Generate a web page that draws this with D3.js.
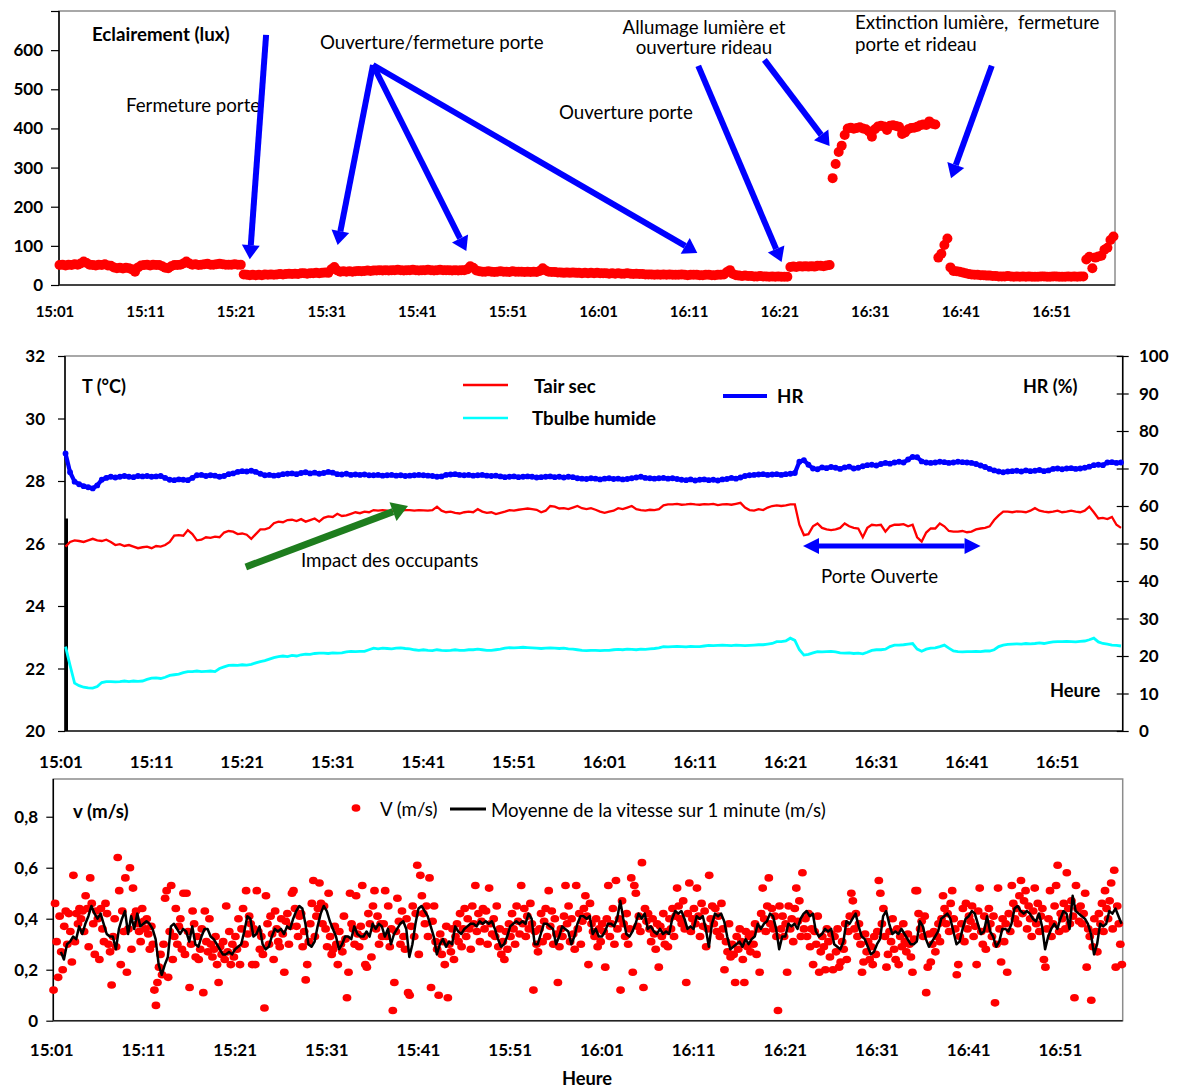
<!DOCTYPE html>
<html><head><meta charset="utf-8">
<script src="https://cdn.jsdelivr.net/npm/d3@7"></script>
<style>body{margin:0;background:#fff}svg{display:block}</style>
</head><body>
<svg id="c" width="1177" height="1088"></svg>
<script>
// ---------- shared categories ----------
const tickLabels = ["15:01","15:11","15:21","15:31","15:41","15:51","16:01","16:11","16:21","16:31","16:41","16:51"];
const tickMinutes = [0,10,20,30,40,50,60,70,80,90,100,110]; // minutes after 15:01

// ---------- top chart: illuminance (lux), one value every 20 s from 15:01:30 ----------
const luxStart = 0.5, luxStep = 1/3;
const luxValues = [
51,52,50, 52,51,53, 52,55,60, 56,52,51, 50,52,51, 53,50,49, 45,43,44, 42,44,43, 40,34,45, 50,51,52,
50,52,51, 51,48,44, 43,48,51, 51,52,55, 60,55,52, 53,51,52, 53,54,52, 52,53,54, 53,52,52, 52,53,52,
52,27,26, 25,26,25, 26,25,27, 26,27,26, 27,28,27, 28,29,28, 29,28,30, 30,29,30, 30,31,30, 31,32,31,
40,46,37, 34,35,34, 35,34,35, 36,35,36, 37,36,37, 37,38,37, 38,37,38, 38,39,38, 37,38,38, 39,38,37,
38,38,39, 38,37,38, 39,38,38, 38,37,38, 37,38,38, 40,48,44, 37,35,34, 34,35,34, 33,34,35, 34,34,33,
35,34,34, 34,33,34, 33,34,33, 36,43,37, 34,33,33, 32,32,31, 32,31,32, 31,31,30, 31,30,31, 30,31,30,
30,30,29, 30,29,30, 29,29,30, 29,28,29, 28,28,27, 27,27,26, 27,26,27, 26,27,26, 26,26,27, 26,25,26,
26,26,25, 25,26,26, 25,25,26, 26,27,33, 38,28,25, 24,23,24, 23,23,22, 22,23,22, 22,21,22, 21,22,21,
21,21,46, 47,46,48, 47,48,47, 48,47,49, 49,48,50, 51,273,309, 340,356,383, 400,402,399, 401,403,400, 398,392,379,
398,405,407, 405,396,407, 408,406,404, 386,390,398, 401,402,404, 408,410,409, 418,412,410, 70,80,102, 119,45,36, 35,34,32,
30,28,27, 26,26,25, 25,24,24, 23,23,22, 22,22,23, 22,21,22, 21,22,21, 22,21,21, 21,22,22, 21,21,22,
22,21,21, 21,22,21, 22,21,22, 22,65,72, 43,70,73, 75,90,95, 115,124
];
const luxTicks = [0,100,200,300,400,500,600];

// ---------- middle chart: one value every 30 s from 15:01:30 ----------
const tStart = 0.5, tStep = 0.5;
const tairSec = [
25.9,26.05, 26.1,26.08, 26.05,26.1, 26.15,26.1, 26.08,26.12, 26.05,25.95, 25.98,25.92, 25.95,25.9, 25.85,25.88, 25.9,25.85,
25.92,25.9, 25.95,26.05, 26.25,26.27, 26.25,26.43, 26.3,26.1, 26.12,26.2, 26.18,26.22, 26.2,26.35, 26.4,26.38, 26.3,26.32,
26.28,26.15, 26.3,26.45, 26.45,26.5, 26.65,26.7, 26.68,26.75, 26.76,26.72, 26.78,26.7, 26.75,26.8, 26.7,26.82, 26.87,26.85,
26.95,26.88, 26.9,26.95, 27.0,26.97, 27.02,27.0, 27.07,27.05, 27.07,27.05, 27.02,27.07, 27.05,27.07, 27.07,27.05, 27.07,27.06,
27.05,27.07, 27.18,27.05, 27.0,27.02, 26.98,26.96, 27.0,27.02, 27.0,27.1, 27.02,26.98, 27.0,26.94, 26.98,27.02, 27.07,27.05,
27.08,27.1, 27.12,27.1, 27.08,27.0, 27.05,27.2, 27.18,27.12, 27.13,27.1, 27.15,27.2, 27.13,27.1, 27.13,27.08, 27.02,26.98,
27.02,27.05, 27.13,27.1, 27.15,27.2, 27.1,27.07, 27.05,27.08, 27.07,27.1, 27.22,27.25, 27.25,27.27, 27.24,27.25, 27.27,27.25,
27.24,27.26, 27.25,27.27, 27.23,27.25, 27.26,27.24, 27.27,27.3, 27.15,27.07, 27.05,27.1, 27.07,27.15, 27.2,27.22, 27.2,27.22,
27.25,27.25, 26.6,26.27, 26.3,26.55, 26.64,26.5, 26.45,26.43, 26.45,26.5, 26.64,26.55, 26.5,26.48, 26.2,26.5, 26.6,26.58,
26.6,26.38, 26.55,26.6, 26.6,26.62, 26.55,26.6, 26.2,26.06, 26.35,26.48, 26.48,26.64, 26.55,26.4, 26.38,26.38, 26.4,26.36,
26.38,26.45, 26.48,26.5, 26.55,26.75, 26.9,27.02, 27.02,27.0, 27.03,27.02, 27.0,27.05, 27.13,27.05, 27.02,27.0, 27.02,27.05,
27.0,27.02, 27.05,27.02, 27.0,27.05, 27.18,27.0, 26.8,26.82, 26.78,26.85, 26.6,26.5
];
const tBulbeHumide = [
22.7,22.1, 21.53,21.45, 21.4,21.38, 21.37,21.42, 21.55,21.58, 21.58,21.57, 21.58,21.6, 21.58,21.6, 21.59,21.6, 21.65,21.69,
21.7,21.68, 21.72,21.78, 21.8,21.82, 21.87,21.9, 21.9,21.92, 21.9,21.91, 21.92,21.9, 22.0,22.05, 22.1,22.11, 22.1,22.12,
22.11,22.13, 22.18,22.22, 22.25,22.3, 22.35,22.38, 22.4,22.38, 22.42,22.4, 22.44,22.46, 22.45,22.48, 22.49,22.49, 22.48,22.5,
22.49,22.5, 22.53,22.55, 22.54,22.55, 22.55,22.6, 22.65,22.63, 22.65,22.64, 22.63,22.65, 22.66,22.64, 22.63,22.6, 22.58,22.6,
22.58,22.57, 22.6,22.58, 22.57,22.58, 22.6,22.58, 22.58,22.6, 22.6,22.62, 22.6,22.58, 22.58,22.6, 22.62,22.65, 22.67,22.66,
22.67,22.68, 22.67,22.66, 22.65,22.64, 22.65,22.66, 22.65,22.64, 22.65,22.63, 22.62,22.6, 22.58,22.57, 22.58,22.58, 22.57,22.58,
22.58,22.6, 22.61,22.6, 22.62,22.61, 22.6,22.62, 22.61,22.63, 22.64,22.66, 22.7,22.69, 22.7,22.71, 22.7,22.69, 22.71,22.7,
22.7,22.72, 22.74,22.73, 22.74,22.75, 22.74,22.73, 22.75,22.74, 22.73,22.74, 22.75,22.76, 22.76,22.78, 22.8,22.86, 22.86,22.88,
22.97,22.9, 22.6,22.43, 22.45,22.5, 22.54,22.53, 22.54,22.55, 22.53,22.5, 22.49,22.5, 22.48,22.49, 22.47,22.52, 22.58,22.6,
22.6,22.62, 22.7,22.75, 22.75,22.76, 22.78,22.8, 22.62,22.55, 22.62,22.65, 22.66,22.7, 22.75,22.65, 22.56,22.54, 22.53,22.54,
22.54,22.55, 22.54,22.56, 22.56,22.6, 22.7,22.75, 22.77,22.78, 22.79,22.78, 22.8,22.79, 22.8,22.82, 22.8,22.83, 22.85,22.86,
22.86,22.87, 22.86,22.85, 22.87,22.88, 22.92,22.97, 22.85,22.8, 22.78,22.75, 22.74,22.72
];
const humidite = [
74,69, 66.5,65.8, 65.3,65, 64.7,65.5, 67,67.5, 67.8,67.6, 67.8,68, 67.8,67.7, 68,67.9, 68,67.8,
67.9,68, 67.5,67, 66.9,67.1, 67,66.9, 67.5,68.2, 68.3,68, 68.2,68.1, 67.8,68, 68.5,68.7, 69.1,69.3,
69.2,69.4, 69.1,68.6, 68.2,68.3, 68.1,68.2, 68.5,68.6, 68.7,68.5, 68.8,69, 68.7,68.9, 68.6,68.8, 69.1,68.9,
68.5,68.4, 68.6,68.3, 68.4,68.3, 68.4,68.2, 68.2,68.3, 68.1,68.2, 68.3,68.1, 68.2,68.0, 68.1,68.2, 68.3,68.2,
68.1,68.0, 67.8,67.9, 68.3,68.4, 68.5,68.3, 68.2,68.3, 68.1,68.2, 68.3,68.1, 68.0,68.1, 67.9,67.7, 67.8,67.9,
67.7,67.8, 67.9,67.8, 67.6,67.7, 67.8,67.9, 67.7,67.8, 67.6,67.8, 67.7,67.4, 67.3,67.2, 67.4,67.3, 67.1,67.3,
67.4,67.2, 67.3,67.1, 67.2,67.4, 67.6,67.8, 67.5,67.4, 67.3,67.4, 67.5,67.3, 67.4,67.2, 67.0,66.9, 67.1,66.8,
67.0,67.1, 66.9,67.0, 66.8,67.1, 67.2,67.5, 67.3,67.6, 68.0,68.2, 68.3,68.4, 68.5,68.3, 68.4,68.5, 68.3,68.5,
68.6,68.8, 71.8,72.2, 71,70, 69.8,70.3, 70.1,70.4, 70.2,69.9, 70.3,70.5, 70.0,70.2, 70.6,70.9, 71.0,70.8,
71.2,71.5, 71.3,71.6, 71.8,71.6, 72.4,73.1, 73,71.9, 71.6,71.5, 71.6,71.8, 71.7,71.5, 71.6,71.8, 71.7,71.6,
71.5,71.2, 70.8,70.4, 69.9,69.5, 69.2,69.0, 69.2,69.3, 69.4,69.2, 69.5,69.3, 69.4,69.6, 69.3,69.5, 69.9,70.0,
69.8,70.0, 70.1,69.9, 70.0,70.2, 70.5,70.9, 71.0,70.9, 71.6,71.7, 71.5,71.6
];
const tTicks = [20,22,24,26,28,30,32];
const hrTicks = [0,10,20,30,40,50,60,70,80,90,100];

// ---------- bottom chart: air speed, one value every 10 s from 15:01:12 ----------
const vStart = 0.2, vStep = 1/6;
const vitesse = [
.12,.46,.31,.17,.41,.27, .20,.37,.43,.30,.42,.35, .23,.57,.31,.42,.38,.44, .40,.43,.35,.49,.44,.29, .56,.46,.38,.26,.43,.40,
.24,.44,.36,.31,.46,.42, .30,.27,.14,.33,.40,.29, .64,.51,.22,.43,.35,.56, .19,.36,.60,.28,.52,.41, .43,.38,.35,.31,.44,.39,
.36,.40,.34,.28,.37,.30, .12,.06,.15,.21,.26,.18, .30,.48,.51,.17,.35,.53, .24,.33,.44,.30,.37,.40, .28,.50,.26,.50,.35,.13,
.30,.43,.38,.25,.33,.24, .28,.36,.11,.43,.31,.27, .40,.30,.25,.28,.33,.22, .15,.29,.26,.31,.24,.45, .27,.35,.22,.30,.25,.33,
.28,.40,.22,.36,.44,.30, .51,.34,.41,.38,.22,.36, .22,.51,.35,.28,.33,.26, .05,.49,.38,.30,.41,.34, .24,.43,.36,.31,.29,.40,
.34,.19,.39,.42,.30,.37, .50,.51,.44,.37,.33,.41, .42,.29,.35,.16,.22,.31, .38,.46,.55,.33,.41,.44, .54,.46,.38,.45,.36,.29,
.50,.33,.26,.28,.37,.30, .22,.35,.30,.27,.41,.32, .09,.19,.50,.38,.36,.30, .49,.34,.29,.37,.53,.33, .22,.21,.42,.38,.25,.45,
.51,.36,.41,.30,.38,.33, .38,.51,.33,.45,.29,.36, .04,.15,.35,.48,.39,.30, .43,.33,.28,.40,.11,.10, .37,.45,.33,.42,.61,.26,
.57,.49,.42,.38,.45,.33, .56,.13,.39,.45,.31,.28, .10,.34,.26,.31,.22,.37, .09,.30,.27,.36,.24,.33, .38,.31,.42,.29,.36,.44,
.33,.40,.36,.28,.45,.38, .53,.35,.42,.31,.39,.44, .36,.43,.30,.52,.38,.34, .40,.33,.45,.29,.36,.26, .31,.24,.35,.28,.38,.33,
.42,.36,.30,.45,.39,.34, .53,.38,.44,.33,.41,.36, .46,.38,.12,.35,.30,.27, .36,.42,.31,.39,.44,.33, .51,.37,.43,.30,.40,.34,
.15,.29,.36,.33,.41,.53, .38,.45,.31,.40,.34,.28, .53,.36,.42,.30,.39,.44, .49,.41,.22,.46,.38,.35, .33,.40,.29,.36,.31,.38,
.35,.21,.40,.53,.33,.38, .44,.30,.55,.36,.40,.12, .47,.38,.33,.42,.30,.36, .56,.19,.53,.50,.37,.41, .35,.62,.13,.44,.39,.42,
.36,.31,.40,.34,.28,.38, .21,.37,.33,.42,.30,.35, .29,.40,.36,.44,.33,.41, .52,.45,.40,.38,.47,.36, .15,.42,.54,.35,.40,.44,
.38,.52,.41,.33,.46,.37, .43,.29,.36,.57,.40,.45, .38,.44,.35,.41,.33,.46, .36,.20,.31,.27,.38,.25, .30,.26,.15,.33,.28,.36,
.31,.24,.15,.35,.29,.33, .27,.34,.30,.38,.26,.36, .19,.42,.52,.40,.35,.45, .56,.38,.44,.36,.41,.33, .04,.45,.36,.41,.33,.38,
.19,.45,.36,.40,.31,.44, .52,.39,.47,.33,.58,.36, .40,.33,.42,.29,.36,.22, .35,.30,.41,.19,.27,.33, .29,.20,.36,.31,.25,.34,
.20,.33,.27,.36,.21,.23, .31,.28,.38,.24,.35,.41, .50,.47,.36,.42,.33,.38, .30,.19,.23,.34,.27,.31, .24,.29,.22,.33,.26,.35,
.55,.50,.38,.44,.33,.21, .26,.35,.31,.40,.28,.24, .36,.22,.33,.29,.38,.31, .27,.34,.30,.25,.19,.32, .51,.51,.42,.36,.39,.33,
.41,.11,.21,.34,.23,.30, .35,.27,.33,.38,.31,.40, .49,.44,.38,.42,.35,.46, .51,.40,.36,.18,.22,.33, .38,.44,.31,.46,.36,.41,
.39,.45,.33,.37,.22,.43, .52,.35,.30,.41,.28,.36, .44,.38,.33,.41,.07,.30, .52,.36,.23,.40,.31,.38, .19,.42,.35,.53,.46,.40,
.44,.38,.49,.55,.42,.47, .51,.36,.45,.40,.33,.43, .52,.38,.46,.35,.41,.44, .24,.21,.36,.40,.51,.33, .38,.45,.53,.61,.35,.42,
.40,.46,.36,.58,.44,.38, .47,.41,.09,.53,.44,.39, .45,.38,.42,.50,.21,.36, .33,.08,.29,.40,.35,.27, .42,.38,.46,.35,.51,.44,
.40,.47,.54,.36,.59,.21, .45,.38,.30,.22
];
// 1-minute moving average, read every 20 s from 15:02
const mStart = 1.0, mStep = 1/3;
const moyenne1min = [
.27,.24,.30, .31,.33,.32, .37,.34,.38, .41,.45,.42, .40,.42,.38, .34,.33,.33, .28,.36,.40, .43,.34,.41, .36,.42,.37, .38,.39,.38,
.36,.32,.22, .18,.22,.25, .37,.38,.36, .34,.36,.35, .31,.37,.30, .29,.33,.36, .36,.33,.32, .30,.28,.26, .26,.27,.26, .28,.29,.30,
.35,.41,.40, .33,.34,.37, .30,.28,.29, .33,.36,.35, .36,.34,.37, .36,.40,.43, .45,.44,.38, .30,.29,.31, .37,.42,.45, .43,.39,.36,
.33,.28,.30, .33,.33,.32, .37,.34,.33, .33,.35,.33, .38,.36,.38, .37,.33,.36, .30,.34,.36, .38,.39,.36, .25,.30,.38, .44,.45,.43,
.41,.37,.33, .26,.30,.32, .29,.31,.30, .37,.35,.34, .36,.37,.38, .38,.37,.39, .38,.39,.38, .39,.36,.32, .29,.30,.33, .37,.38,.39,
.38,.39,.38, .42,.40,.30, .30,.34,.38, .38,.37,.36, .30,.33,.37, .36,.35,.30, .33,.38,.41, .41,.40,.41, .34,.36,.33, .33,.35,.38,
.38,.37,.40, .47,.40,.34, .33,.35,.38, .42,.40,.42, .36,.37,.35, .34,.36,.34, .35,.34,.40, .43,.42,.43, .40,.36,.37, .36,.41,.40,
.41,.36,.29, .38,.42,.41, .42,.39,.33, .28,.29,.30, .31,.29,.32, .30,.32,.33, .38,.36,.38, .39,.42,.41, .36,.28,.33, .33,.38,.37,
.38,.36,.40, .42,.43,.41, .42,.35,.33, .34,.36,.35, .36,.30,.29, .28,.31,.39, .38,.40,.42, .37,.33,.32, .29,.26,.27, .30,.32,.41,
.43,.38,.34, .35,.34,.36, .34,.32,.30, .30,.31,.39, .37,.32,.29, .31,.33,.35, .40,.41,.42, .40,.35,.30, .31,.36,.40, .41,.43,.42,
.38,.34,.35, .41,.35,.33, .29,.31,.36, .36,.35,.38, .44,.45,.43, .42,.43,.42, .40,.39,.42, .37,.28,.33, .36,.38,.36, .40,.43,.42,
.36,.49,.43, .42,.41,.40, .38,.34,.26, .30,.38,.37, .38,.43,.42, .44,.41,.38
];
const vTicks = [0,0.2,0.4,0.6,0.8];

// ================= drawing =================
const svg = d3.select("#c");
const FONT = "Lato, 'Open Sans', sans-serif";
const RED = "#ff0000", BLUE = "#0000ff", CYAN = "#00ffff", GREEN = "#1e7d1e";
const LBL = 18.7;

function txt(x, y, s, opt = {}) {
  return svg.append("text").attr("x", x).attr("y", y).text(s)
    .attr("font-family", FONT).attr("font-size", opt.size || 17)
    .attr("font-weight", opt.bold ? 700 : 400)
    .attr("text-anchor", opt.anchor || "start").attr("fill", opt.fill || "#000");
}
function arrow(g, x1, y1, x2, y2, color, w, hl, hw, both) {
  const dx = x2 - x1, dy = y2 - y1, L = Math.hypot(dx, dy), ux = dx / L, uy = dy / L, px = -uy, py = ux;
  const sx = both ? x1 + ux * hl : x1, sy = both ? y1 + uy * hl : y1;
  g.append("line").attr("x1", sx).attr("y1", sy).attr("x2", x2 - ux * hl).attr("y2", y2 - uy * hl)
    .attr("stroke", color).attr("stroke-width", w);
  const head = (tx, ty, ux, uy) => {
    const bx = tx - ux * hl, by = ty - uy * hl;
    g.append("path").attr("d", `M${tx},${ty}L${bx + px * hw},${by + py * hw}L${bx - px * hw},${by - py * hw}Z`).attr("fill", color);
  };
  head(x2, y2, ux, uy);
  if (both) head(x1, y1, -ux, -uy);
}
function frame(l, t, r, b) {
  svg.append("rect").attr("x", l).attr("y", t).attr("width", r - l).attr("height", b - t)
    .attr("fill", "none").attr("stroke", "#8c8c8c").attr("stroke-width", 1.5);
  svg.append("line").attr("x1", l).attr("x2", l).attr("y1", t).attr("y2", b).attr("stroke", "#000").attr("stroke-width", 1.5);
  svg.append("line").attr("x1", l).attr("x2", r).attr("y1", b).attr("y2", b).attr("stroke", "#222").attr("stroke-width", 1.5);
}

// ---------- TOP ----------
{
  const L = 59, R = 1115, T = 11, B = 285;
  const x = d3.scaleLinear().domain([0, 117]).range([55, 1115]);
  const y = d3.scaleLinear().domain([0, 700]).range([B, T]);
  frame(L, T, R, B);
  const ax = svg.append("g").attr("transform", `translate(${L},0)`)
    .call(d3.axisLeft(y).tickValues([0,100,200,300,400,500,600,700]).tickSize(8).tickFormat(""));
  ax.select(".domain").remove();
  ax.selectAll("line").attr("stroke", "#000").attr("stroke-width", 1.2);
  luxTicks.forEach(v => txt(43, y(v) + 6, v, { bold: true, anchor: "end" }));
  tickMinutes.forEach((m, i) => txt(x(m), 317, tickLabels[i], { bold: true, size: 15, anchor: "middle" }));

  svg.append("g").selectAll("circle").data(luxValues).join("circle")
    .attr("cx", (d, i) => x(luxStart + i * luxStep)).attr("cy", d => y(d)).attr("r", 5).attr("fill", RED);

  txt(92, 41, "Eclairement (lux)", { bold: true, size: LBL });
  txt(126, 112, "Fermeture porte", { size: LBL });
  txt(320, 49, "Ouverture/fermeture porte", { size: LBL });
  txt(704, 34, "Allumage lumière et", { anchor: "middle", size: LBL });
  txt(704, 54, "ouverture rideau", { anchor: "middle", size: LBL });
  txt(559, 119, "Ouverture porte", { size: LBL });
  txt(855, 29, "Extinction lumière,  fermeture", { size: LBL }).style("white-space", "pre");
  txt(855, 51, "porte et rideau", { size: LBL });

  const g = svg.append("g");
  const a = (m1, v1, m2, v2) => arrow(g, x(m1), y(v1), x(m2), y(v2), BLUE, 6, 14, 9);
  a(23.3, 639, 21.5, 66);
  a(35.1, 562, 31.2, 102);
  a(35.1, 562, 45.4, 87);
  a(35.1, 562, 70.9, 82);
  a(71.0, 560, 80.2, 59);
  a(78.3, 575, 85.5, 355);
  a(103.4, 560, 98.9, 273);
}

// ---------- MIDDLE ----------
{
  const L = 65, R = 1122.7, T = 356, B = 731;
  const x = d3.scaleLinear().domain([0, 117]).range([61, 1121]);
  const yT = d3.scaleLinear().domain([20, 32]).range([B, T]);
  const yH = d3.scaleLinear().domain([0, 100]).range([B, T]);
  frame(L, T, R, B);
  svg.append("line").attr("x1", R).attr("x2", R).attr("y1", T).attr("y2", B).attr("stroke", "#000").attr("stroke-width", 1.5);
  const al = svg.append("g").attr("transform", `translate(${L},0)`).call(d3.axisLeft(yT).tickValues(tTicks).tickSize(7).tickFormat(""));
  al.select(".domain").remove(); al.selectAll("line").attr("stroke", "#000").attr("stroke-width", 1.2);
  const ar = svg.append("g").attr("transform", `translate(${R},0)`).call(d3.axisRight(yH).tickValues(hrTicks).tickSize(6).tickFormat(""));
  ar.select(".domain").remove(); ar.selectAll("line").attr("stroke", "#000").attr("stroke-width", 1.2).attr("x1", -6);
  tTicks.forEach(v => txt(45, yT(v) + 6, v, { bold: true, anchor: "end" }));
  hrTicks.forEach(v => txt(1139, yH(v) + 6, v, { bold: true }));
  tickMinutes.forEach((m, i) => txt(x(m), 768, tickLabels[i], { bold: true, anchor: "middle" }));

  // black vertical bar at start
  svg.append("line").attr("x1", L + 1.5).attr("x2", L + 1.5).attr("y1", yT(26.8)).attr("y2", yT(20))
    .attr("stroke", "#000").attr("stroke-width", 3);

  const lineT = d3.line().x((d, i) => x(tStart + i * tStep)).y(d => yT(d));
  const lineH = d3.line().x((d, i) => x(tStart + i * tStep)).y(d => yH(d));
  svg.append("path").datum(tBulbeHumide).attr("d", lineT).attr("fill", "none").attr("stroke", CYAN).attr("stroke-width", 2.8);
  svg.append("path").datum(tairSec).attr("d", lineT).attr("fill", "none").attr("stroke", RED).attr("stroke-width", 2.3);
  svg.append("path").datum(humidite).attr("d", lineH).attr("fill", "none").attr("stroke", BLUE).attr("stroke-width", 4.2);
  svg.append("g").selectAll("circle").data(humidite).join("circle")
    .attr("cx", (d, i) => x(tStart + i * tStep)).attr("cy", d => yH(d)).attr("r", 2.9).attr("fill", BLUE);

  txt(82, 393, "T (°C)", { bold: true, size: 18 });
  txt(1023, 393, "HR (%)", { bold: true, size: 18 });
  svg.append("line").attr("x1", 463).attr("x2", 508).attr("y1", 385).attr("y2", 385).attr("stroke", RED).attr("stroke-width", 2.5);
  txt(534, 393, "Tair sec", { bold: true, size: LBL });
  svg.append("line").attr("x1", 463).attr("x2", 508).attr("y1", 418).attr("y2", 418).attr("stroke", CYAN).attr("stroke-width", 2.5);
  txt(532, 425, "Tbulbe humide", { bold: true, size: LBL });
  svg.append("line").attr("x1", 723).attr("x2", 767).attr("y1", 396).attr("y2", 396).attr("stroke", BLUE).attr("stroke-width", 4);
  txt(777, 403, "HR", { bold: true, size: LBL });
  txt(1050, 697, "Heure", { bold: true, size: 18.3 });

  const g = svg.append("g");
  arrow(g, x(20.4), yT(25.25), x(38.3), yT(27.2), GREEN, 7, 16, 10);
  txt(301, 567, "Impact des occupants", { size: LBL });
  arrow(g, x(81.9), yT(25.92), x(101.5), yT(25.92), BLUE, 5, 16, 8, true);
  txt(821, 583, "Porte Ouverte", { size: LBL });
}

// ---------- BOTTOM ----------
{
  const L = 53.3, R = 1122.7, T = 779, B = 1020.7;
  const x = d3.scaleLinear().domain([0, 117]).range([51.7, 1124.6]);
  const y = d3.scaleLinear().domain([0, 0.948]).range([B, T]);
  frame(L, T, R, B);
  const al = svg.append("g").attr("transform", `translate(${L},0)`).call(d3.axisLeft(y).tickValues(vTicks).tickSize(7).tickFormat(""));
  al.select(".domain").remove(); al.selectAll("line").attr("stroke", "#000").attr("stroke-width", 1.2);
  vTicks.forEach(v => txt(38, y(v) + 6, v === 0 ? "0" : String(v.toFixed(1)).replace(".", ","), { bold: true, anchor: "end" }));
  tickMinutes.forEach((m, i) => txt(x(m), 1056, tickLabels[i], { bold: true, anchor: "middle" }));

  svg.append("g").selectAll("ellipse").data(vitesse).join("ellipse")
    .attr("cx", (d, i) => x(vStart + i * vStep)).attr("cy", d => y(d)).attr("rx", 4.4).attr("ry", 3.8).attr("fill", RED);
  svg.append("path").datum(moyenne1min)
    .attr("d", d3.line().x((d, i) => x(mStart + i * mStep)).y(d => y(d)))
    .attr("fill", "none").attr("stroke", "#000").attr("stroke-width", 2.5).attr("stroke-linejoin", "round");

  txt(73, 818, "v (m/s)", { bold: true, size: LBL });
  svg.append("ellipse").attr("cx", 356).attr("cy", 808).attr("rx", 4.4).attr("ry", 3.8).attr("fill", RED);
  txt(380, 816, "V (m/s)", { size: LBL });
  svg.append("line").attr("x1", 450).attr("x2", 486).attr("y1", 809).attr("y2", 809).attr("stroke", "#000").attr("stroke-width", 3);
  txt(491, 817, "Moyenne de la vitesse sur 1 minute (m/s)", { size: LBL });
  txt(587, 1085, "Heure", { bold: true, anchor: "middle", size: 18.3 });
}
</script>
</body></html>
